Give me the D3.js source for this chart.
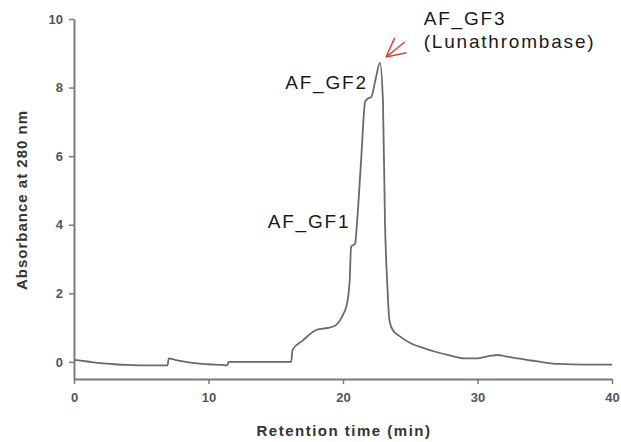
<!DOCTYPE html>
<html>
<head>
<meta charset="utf-8">
<script src="https://cdn.jsdelivr.net/npm/d3@7"></script>
<style>
  body { margin: 0; background: #fff; }
  svg { display: block; font-family: "Liberation Sans", Arial, sans-serif; }
</style>
</head>
<body>
<script>
// retention time (min) and absorbance at 280 nm
var time = [0, 1, 2, 3, 4, 5, 6, 6.95, 7.05, 7.5, 8, 9, 10, 11, 11.4, 11.5,
  13, 16.15, 16.25, 17, 18, 18.5, 19, 19.5, 19.9, 20.3, 20.5, 20.6, 20.9, 21.05,
  21.35, 21.65, 21.85, 22.1, 22.4, 22.75, 22.97, 23.12, 23.3, 23.45, 23.7, 24.2,
  25, 26, 27, 28, 29, 30, 31, 31.5, 32, 33, 34, 35, 36, 38, 40];
var absorbance = [0.06, 0.01, -0.04, -0.07, -0.09, -0.1, -0.1, -0.1, 0.1, 0.06, 0.02, -0.04, -0.07, -0.09, -0.1, 0.0,
  0.0, 0.0, 0.35, 0.62, 0.93, 0.97, 1.0, 1.08, 1.3, 1.7, 2.4, 3.35, 3.45, 4.1,
  5.9, 7.6, 7.68, 7.72, 8.2, 8.72, 7.6, 4.1, 2.2, 1.22, 0.93, 0.75,
  0.55, 0.4, 0.28, 0.18, 0.1, 0.1, 0.18, 0.2, 0.17, 0.1, 0.04, -0.02, -0.06, -0.08, -0.08];

var xTicks = [0, 10, 20, 30, 40];
var yTicks = [0, 2, 4, 6, 8, 10];

var peakLabels = ["AF_GF1", "AF_GF2", "AF_GF3", "(Lunathrombase)"];
var labelTime = [14.4, 15.7, 26.0, 26.0];
var labelAbs = [3.9, 7.95, 9.82, 9.15];

var width = 621, height = 442;
var svg = d3.select('body').append('svg').attr('width', width).attr('height', height);

var x = d3.scaleLinear().domain([0, 40]).range([74, 612]);
var y = d3.scaleLinear().domain([-0.5, 10]).range([379, 19]);

var axisColor = '#7a7a7a';

// y axis
var yAxis = svg.append('g')
  .attr('transform', 'translate(' + x(0) + ',0)')
  .call(d3.axisLeft(y).tickValues(yTicks).tickSize(5).tickPadding(6).tickSizeOuter(0));
yAxis.select('.domain').attr('stroke', axisColor).attr('stroke-width', 2);
yAxis.selectAll('.tick line').attr('stroke', axisColor).attr('stroke-width', 1.5);
yAxis.selectAll('.tick text').attr('fill', '#555').attr('font-size', 13)
  .attr('font-weight', 'bold').attr('font-family', '"Liberation Sans", Arial, sans-serif');

// x axis
var xAxis = svg.append('g')
  .attr('transform', 'translate(0,' + y(-0.5) + ')')
  .call(d3.axisBottom(x).tickValues(xTicks).tickSize(5).tickPadding(9).tickSizeOuter(0));
xAxis.select('.domain').attr('stroke', axisColor).attr('stroke-width', 2);
xAxis.selectAll('.tick line').attr('stroke', axisColor).attr('stroke-width', 1.5);
xAxis.selectAll('.tick text').attr('fill', '#555').attr('font-size', 13)
  .attr('font-weight', 'bold').attr('font-family', '"Liberation Sans", Arial, sans-serif');

// axis titles
svg.append('text')
  .attr('x', 344).attr('y', 436)
  .attr('text-anchor', 'middle')
  .attr('font-size', 15).attr('font-weight', 'bold').attr('fill', '#333')
  .style('letter-spacing', '1.5px')
  .text('Retention time (min)');

svg.append('text')
  .attr('transform', 'translate(27,200) rotate(-90)')
  .attr('text-anchor', 'middle')
  .attr('font-size', 15).attr('font-weight', 'bold').attr('fill', '#333')
  .style('letter-spacing', '1px')
  .text('Absorbance at 280 nm');

// chromatogram trace
var line = d3.line()
  .x(function (d, i) { return x(time[i]); })
  .y(function (d) { return y(d); })
  .curve(d3.curveMonotoneX);

svg.append('path')
  .datum(absorbance)
  .attr('d', line)
  .attr('fill', 'none')
  .attr('stroke', '#6a6a6a')
  .attr('stroke-width', 1.8);

// peak labels
svg.selectAll('.peak')
  .data(peakLabels)
  .enter()
  .append('text')
  .attr('class', 'peak')
  .attr('x', function (d, i) { return x(labelTime[i]); })
  .attr('y', function (d, i) { return y(labelAbs[i]); })
  .attr('font-size', 19)
  .attr('fill', '#1a1a1a')
  .style('letter-spacing', '1.8px')
  .text(function (d) { return d; });

// red arrow pointing at the main peak (fan-shaped head)
var tip = [x(23.2), y(8.89)], tail = [x(24.6), y(9.33)];
var ang = Math.atan2(tail[1] - tip[1], tail[0] - tip[0]);
var arrow = svg.append('g').attr('stroke', '#d3433d').attr('stroke-width', 1.5).attr('fill', 'none');
arrow.append('line').attr('x1', tip[0]).attr('y1', tip[1]).attr('x2', tail[0]).attr('y2', tail[1]);
[-0.47, 0.47].forEach(function (a) {
  arrow.append('line')
    .attr('x1', tip[0]).attr('y1', tip[1])
    .attr('x2', tip[0] + 21 * Math.cos(ang + a))
    .attr('y2', tip[1] + 21 * Math.sin(ang + a));
});
</script>
</body>
</html>
